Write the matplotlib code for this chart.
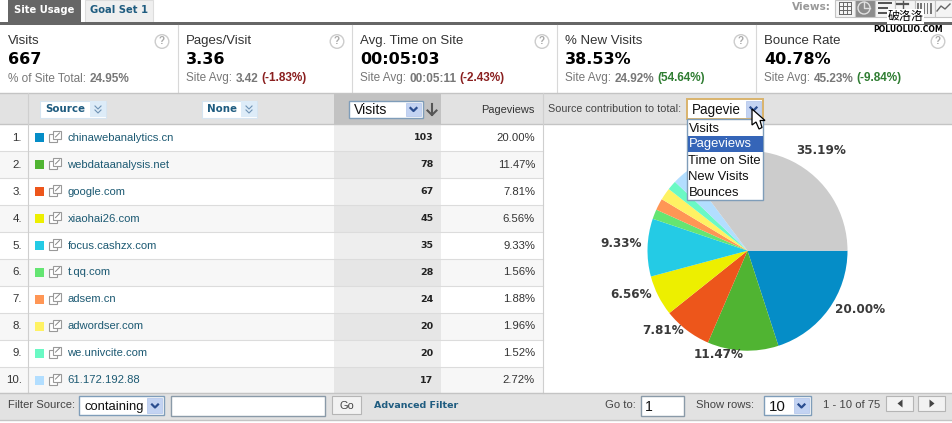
import matplotlib
matplotlib.use('Agg')
import matplotlib.pyplot as plt
from matplotlib.patches import Rectangle, Circle, Polygon

plt.rcParams['font.family'] = ['Liberation Sans', 'DejaVu Sans']

# table data
sources = ['chinawebanalytics.cn', 'webdataanalysis.net', 'google.com', 'xiaohai26.com',
           'focus.cashzx.com', 't.qq.com', 'adsem.cn', 'adwordser.com', 'we.univcite.com',
           '61.172.192.88']
visits = [103, 78, 67, 45, 35, 28, 24, 20, 20, 17]
pageviews = [20.00, 11.47, 7.81, 6.56, 9.33, 1.56, 1.88, 1.96, 1.52, 2.72]
other_share = 35.19
colors = ['#058dc7', '#50b432', '#ed561b', '#edef00', '#24cbe5', '#64e572',
          '#ff9655', '#fff263', '#6af9c4', '#b2deff']
other_color = '#cccccc'

# metric row
metric_names = ['Visits', 'Pages/Visit', 'Avg. Time on Site', '% New Visits', 'Bounce Rate']
metric_values = ['667', '3.36', '00:05:03', '38.53%', '40.78%']
metric_prefix = ['% of Site Total:', 'Site Avg:', 'Site Avg:', 'Site Avg:', 'Site Avg:']
metric_avg = ['24.95%', '3.42', '00:05:11', '24.92%', '45.23%']
metric_delta = ['', '(-1.83%)', '(-2.43%)', '(54.64%)', '(-9.84%)']
metric_delta_col = ['#333333', '#8a1f1f', '#8a1f1f', '#2f7d32', '#2f7d32']
metric_x = [8, 186, 360, 565, 764]
help_x = [162, 337, 542, 741, 938]
metric_seps = [178, 352, 557, 756]

menu_items = ['Visits', 'Pageviews', 'Time on Site', 'New Visits', 'Bounces']

W, H = 953, 423
fig = plt.figure(figsize=(W / 100, H / 100), dpi=100)
ax = fig.add_axes([0, 0, 1, 1])
ax.set_xlim(0, W)
ax.set_ylim(H, 0)
ax.axis('off')


def px(size):
    return size * 0.72


def box(x, y, w, h, fc='none', ec='none', lw=0.8, z=2):
    ax.add_patch(Rectangle((x, y), w, h, facecolor=fc, edgecolor=ec, linewidth=lw, zorder=z))


def txt(x, y, s, size=12, color='#333333', ha='left', bold=False, family=None, z=5):
    fam = family or ['Liberation Sans', 'DejaVu Sans']
    return ax.text(x, y, s, fontsize=px(size), color=color, ha=ha, va='center',
                   fontweight='bold' if bold else 'normal', family=fam, zorder=z)


def select(x, y, w, h, label, size=15, ec='#7f9db9', lw=1.0, z=4):
    box(x, y, w, h, fc='white', ec=ec, lw=lw, z=z)
    box(x + w - 17, y + 2, 15, h - 4, fc='#c3d3f2', ec='#b0c4ea', lw=0.5, z=z)
    mx, my = x + w - 9.5, y + h / 2
    ax.plot([mx - 3, mx, mx + 3], [my - 1.5, my + 1.5, my - 1.5], color='#2a4d8f', lw=1.6, zorder=z + 1)
    return txt(x + 5, y + h / 2 + 1, label, size=size, color='#111111', z=z + 1)


# tabs
box(8, 0, 73, 22, fc='#666666')
txt(44.5, 10, 'Site Usage', size=10, color='white', ha='center', bold=True, family='DejaVu Sans')
box(85, 0, 68, 22, fc='#efefef', ec='#dddddd')
txt(119, 10, 'Goal Set 1', size=10, color='#1f5c80', ha='center', bold=True, family='DejaVu Sans')
box(0, 22, W, 3, fc='#666666')

# views toolbar
txt(831, 7, 'Views:', size=10.5, color='#999999', ha='right', bold=True, family='DejaVu Sans')
for i in range(6):
    x0 = 835 + i * 20
    box(x0, 0, 20, 17, fc='#8c8c8c' if i == 1 else '#f4f4f4', ec='#c4c4c4', z=2)
for k in range(4):
    ax.plot([839 + k * 4, 839 + k * 4], [2, 14], color='#666666', lw=0.7, zorder=3)
    ax.plot([839, 851], [2 + k * 4, 2 + k * 4], color='#666666', lw=0.7, zorder=3)
ax.add_patch(Circle((864, 8), 6, fc='none', ec='#e0e0e0', lw=1.0, zorder=3))
ax.plot([864, 864, 870], [2, 8, 8], color='#e0e0e0', lw=1.0, zorder=3)
for yy, xe in zip([2, 7, 12], [892, 888, 890]):
    box(878, yy, xe - 878, 2.4, fc='#555555', z=3)
ax.plot([903, 903], [1, 10], color='#555555', lw=1, zorder=3)
ax.plot([897, 908], [4, 4], color='#555555', lw=1.6, zorder=3)
for k in range(5):
    box(917 + k * 3.3, 3, 1.6, 11, fc='#777777', z=3)
ax.plot([937, 941, 945, 950], [11, 6, 9, 4], color='#666666', lw=1, zorder=3)

# watermark
t = txt(905.5, 16.5, '破洛洛', size=12, color='black', ha='center',
        family=['Noto Sans CJK SC', 'DejaVu Sans'], z=8)
t.set_bbox(dict(facecolor='white', edgecolor='none', pad=0.6))
txt(908, 29, 'POLUOLUO.COM', size=7.7, color='black', ha='center', bold=True, family='DejaVu Sans', z=8)

# metric row
for xs in metric_seps:
    ax.plot([xs, xs], [25, 93], color='#d8d8d8', lw=0.8, zorder=2)
for i in range(5):
    x0 = metric_x[i]
    txt(x0, 41, metric_names[i], size=13.2, color='#333333')
    txt(x0, 59, metric_values[i], size=16, color='black', bold=True, family='DejaVu Sans')
    a = txt(x0, 78.5, metric_prefix[i], size=11.7, color='#777777')
    fig.canvas.draw()
    xa = ax.transData.inverted().transform(a.get_window_extent().get_points())[1][0] + 3.5
    b = txt(xa, 78.5, metric_avg[i], size=11.7, color='#777777', bold=True)
    xb = ax.transData.inverted().transform(b.get_window_extent().get_points())[1][0] + 3
    if metric_delta[i]:
        txt(xb, 78.5, metric_delta[i], size=11.7, color=metric_delta_col[i], bold=True)
    ax.add_patch(Circle((help_x[i], 41.5), 6.8, fc='white', ec='#cccccc', lw=1.0, zorder=3))
    txt(help_x[i], 41.5, '?', size=10, color='#aaaaaa', ha='center', bold=True, z=4)

# header row
box(0, 93, W, 31, fc='#e2e2e2', z=1)
ax.plot([0, W], [93.5, 93.5], color='#c4c4c4', lw=1, zorder=3)
ax.plot([0, W], [124.5, 124.5], color='#c4c4c4', lw=1, zorder=3)
box(334, 94, 107, 30, fc='#c2c2c2', z=2)
ax.plot([28.5, 28.5], [93, 393], color='#cfcfcf', lw=0.8, zorder=3)
ax.plot([543, 543], [93, 393], color='#cfcfcf', lw=0.8, zorder=3)

for x0, w0, lab in [(40, 66, 'Source'), (202, 55, 'None')]:
    box(x0, 101, w0, 17, fc='white', ec='#d6e4f0', z=3)
    box(x0 + w0 - 16, 101.5, 16, 16, fc='#ddecf8', z=3)
    txt(x0 + 5, 109.5, lab, size=10.2, color='#1f5c80', bold=True, family='DejaVu Sans')
    cx = x0 + w0 - 8
    for dy in (0, 4):
        ax.plot([cx - 3, cx, cx + 3], [106 + dy, 109 + dy, 106 + dy], color='#6f93b5', lw=0.8, zorder=5)

select(349, 101, 74, 17, 'Visits', size=14)
ax.plot([432, 432], [104, 115], color='#555555', lw=1.5, zorder=5)
ax.plot([427.5, 432, 436.5], [110.5, 115, 110.5], color='#555555', lw=1.5, zorder=5)
txt(535, 110, 'Pageviews', size=11, color='#333333', ha='right')
txt(548, 108.5, 'Source contribution to total:', size=10.8, color='#444444')

# table rows
row_h = 26.9
top = 124.5
for i in range(len(sources)):
    y0 = top + i * row_h
    ym = y0 + row_h / 2
    if i % 2 == 1:
        box(0, y0, 543, row_h, fc='#f7f7f7', z=1)
    box(334, y0, 107, row_h, fc='#e6e6e6' if i % 2 else '#eeeeee', z=1.5)
    ax.plot([0, 543], [y0 + row_h, y0 + row_h], color='#dcdcdc', lw=0.8, zorder=2)
    txt(22, ym, f'{i + 1}.', size=11.5, color='#333333', ha='right')
    box(35, ym - 4.5, 9, 9, fc=colors[i], z=3)
    box(49.5, ym - 3.5, 8, 8, fc='white', ec='#999999', z=3)
    box(53.5, ym - 6.5, 8, 8, fc='white', ec='#999999', z=3.5)
    ax.plot([55.5, 59.5], [ym - 1, ym - 5], color='#888888', lw=0.7, zorder=4)
    txt(67.5, ym, sources[i], size=11.2, color='#1d5a73')
    txt(433.5, ym, str(visits[i]), size=9.5, color='#222222', ha='right', bold=True, family='DejaVu Sans')
    txt(535, ym, f'{pageviews[i]:.2f}%', size=11.2, color='#333333', ha='right')

# footer
box(0, 393.5, W, 27, fc='#e2e2e2', z=2)
ax.plot([0, W], [393.5, 393.5], color='#c4c4c4', lw=1, zorder=3)
ax.plot([0, W], [420.5, 420.5], color='#c4c4c4', lw=1, zorder=3)
txt(8, 405.5, 'Filter Source:', size=11.2, color='#444444')
select(79.5, 396.5, 85, 19, 'containing', size=13, z=4)
box(171, 396.5, 154, 19.5, fc='white', ec='#8a9aa8', lw=1, z=4)
box(332.5, 396.5, 29, 18, fc='#f2f2f2', ec='#b5b5b5', z=4)
txt(347, 406, 'Go', size=11, color='#444444', ha='center')
txt(374, 406, 'Advanced Filter', size=9.5, color='#1f5c80', bold=True, family='DejaVu Sans')
txt(605, 405, 'Go to:', size=11.2, color='#444444')
box(641.5, 396.5, 43, 20, fc='white', ec='#8a9aa8', lw=1, z=4)
txt(645, 407, '1', size=14, color='#111111')
txt(696.5, 405, 'Show rows:', size=11.2, color='#444444')
select(764, 396.5, 47, 19, '10', size=15)
txt(823.5, 405, '1 - 10 of 75', size=11.2, color='#444444')
for x0, d in [(886.5, -1), (918.5, 1)]:
    box(x0, 396, 27, 15, fc='#f2f2f2', ec='#b5b5b5', z=4)
    xc = x0 + 13.5
    ax.add_patch(Polygon([(xc + 2.5 * d, 403.5), (xc - 2.5 * d, 399.5), (xc - 2.5 * d, 407.5)],
                         fc='#444444', zorder=5))

# pie in its own axes, centre (747.5, 250.7), radius 100 px
cx_p, cy_p, rad = 747.5, 250.7, 100
pie_ax = fig.add_axes([(cx_p - rad) / W, 1 - (cy_p + rad) / H, 2 * rad / W, 2 * rad / H])
pie_vals = pageviews + [other_share]
pie_cols = colors + [other_color]
pie_ax.pie(pie_vals, colors=pie_cols, startangle=0, counterclock=False, radius=1.0,
           wedgeprops=dict(linewidth=0))
pie_ax.set_xlim(-1, 1)
pie_ax.set_ylim(-1, 1)
pie_ax.set_zorder(2)
pie_ax.patch.set_alpha(0)

# pie labels, on a top overlay
ov = fig.add_axes([0, 0, 1, 1])
ov.set_xlim(0, W)
ov.set_ylim(H, 0)
ov.axis('off')
ov.set_zorder(5)
ov.patch.set_alpha(0)
ax = ov

pie_label_text = ['20.00%', '11.47%', '7.81%', '6.56%', '9.33%', '35.19%']
pie_label_x = [860, 718.5, 663, 631.5, 621, 821]
pie_label_y = [309.5, 354, 331, 294.5, 243.5, 150.5]
for lx, ly, s in zip(pie_label_x, pie_label_y, pie_label_text):
    txt(lx, ly, s, size=12, color='#3a3a3a', ha='center', bold=True, family='DejaVu Sans')

# open dropdown, label clipped by the button
lab = select(687, 99, 76, 20, 'Pageviews', size=13.5, ec='#d9b36c', lw=1.4)
lab.set_clip_on(True)
lab.set_clip_path(Rectangle((687, 99), 53, 20, transform=ov.transData))
box(687.5, 119, 76, 81.5, fc='white', ec='#7f9db9', lw=1, z=6)
box(688, 136, 75, 16, fc='#3565b8', z=7)
for j, item in enumerate(menu_items):
    txt(688.5, 128.5 + j * 16, item, size=13, color='white' if j == 1 else '#111111', z=8)

# cursor
cur_x = [752, 752, 756, 759, 762, 760, 765]
cur_y = [109, 125, 122, 129, 127.5, 120.5, 120.5]
ov.add_patch(Polygon(list(zip(cur_x, cur_y)), fc='white', ec='black', lw=0.9, zorder=10))

fig.savefig('out.png', dpi=100, facecolor='white')
